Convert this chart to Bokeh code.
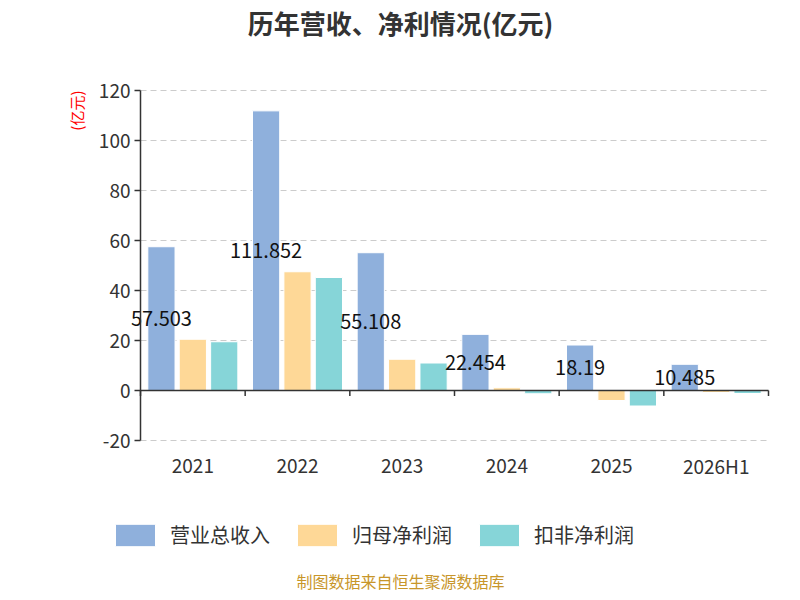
import math
from bokeh.plotting import figure
from bokeh.models import ColumnDataSource, Label, Legend, LegendItem, Range1d
from bokeh.embed import file_html
from bokeh.resources import INLINE
from bokeh.core.properties import value

years = ["2021", "2022", "2023", "2024", "2025", "2026H1"]
revenue = [57.503, 111.852, 55.108, 22.454, 18.19, 10.485]
net_profit = [20.5, 47.5, 12.5, 1.1, -4.0, -0.8]
deducted = [19.5, 45.2, 11.0, -1.3, -6.2, -1.2]
series_names = ["营业总收入", "归母净利润", "扣非净利润"]
colors = ["#8fb0dc", "#fed897", "#86d5d8"]
yticks = [-20, 0, 20, 40, 60, 80, 100, 120]
FONT = "Noto Sans CJK SC"

W, H = 792, 592
# frame covers whole canvas; plot region: x px 140..768, y px 90..440 (from top)
ppx = 628 / 6.0
ppy = 350 / 140.0
x0 = -0.5 - 140 / ppx
x1 = 5.5 + (W - 768) / ppx
y1 = 120 + 90 / ppy
y0 = -20 - (H - 440) / ppy

p = figure(width=W, height=H, output_backend="svg", toolbar_location=None,
           x_range=Range1d(x0, x1), y_range=Range1d(y0, y1),
           min_border=0)
p.outline_line_color = None
p.xaxis.visible = False
p.yaxis.visible = False
p.xgrid.visible = False
p.ygrid.visible = False

# grid lines
gy = [t for t in yticks if t != 0]
p.segment(x0=[-0.5] * len(gy), x1=[5.5] * len(gy), y0=gy, y1=gy,
          line_color="#cccccc", line_dash="6 4", line_width=1)

xs = list(range(len(years)))
offsets = [-0.3, 0.0, 0.3]
renderers = []
for vals, off, c in zip([revenue, net_profit, deducted], offsets, colors):
    src = ColumnDataSource(dict(x=[i + off for i in xs], top=vals))
    r = p.vbar(x="x", top="top", bottom=0, width=0.26, source=src, fill_color=c,
               line_color="white", line_width=1)
    renderers.append(r)

lsrc = ColumnDataSource(dict(x=[i - 0.3 for i in xs], y=[v / 2 for v in revenue],
                             t=[str(v) for v in revenue]))
p.text(x="x", y="y", text="t", source=lsrc, text_align="center", text_baseline="middle",
       text_font=value(FONT), text_font_size="20px", text_color="#111111")

# zero line and category ticks
p.segment(x0=[-0.5], x1=[5.5], y0=[0], y1=[0], line_color="#333333", line_width=1.5)
bx = [i + 0.5 for i in [-1] + xs]
p.segment(x0=bx, x1=bx, y0=[0] * len(bx), y1=[-2.2] * len(bx), line_color="#333333", line_width=1.5)

# y axis
p.segment(x0=[-0.5], x1=[-0.5], y0=[-20], y1=[120], line_color="#333333", line_width=1.5)
p.segment(x0=[-0.5 - 6 / ppx] * len(yticks), x1=[-0.5] * len(yticks), y0=yticks, y1=yticks,
          line_color="#333333", line_width=1.5)
p.text(x=[-0.5 - 10 / ppx] * len(yticks), y=yticks, text=[str(t) for t in yticks],
       text_align="right", text_baseline="middle", text_font=value(FONT),
       text_font_size="19px", text_color="#333333")

# x labels
p.text(x=xs, y=[-20 - 25 / ppy] * len(xs), text=years, text_align="center", text_baseline="middle",
       text_font=value(FONT), text_font_size="19px", text_color="#333333")

p.add_layout(Label(x=-0.5 - 64 / ppx, y=120, text="(亿元)", angle=math.pi / 2,
                   text_color="red", text_font=FONT, text_font_size="15px",
                   text_align="right", text_baseline="middle"))

legend = Legend(items=[LegendItem(label=n, renderers=[r]) for n, r in zip(series_names, renderers)],
                orientation="horizontal", location=(110, 43), border_line_color=None,
                background_fill_alpha=0,
                label_text_font=FONT, label_text_font_size="20px", label_text_color="#333333",
                glyph_width=50, glyph_height=28, label_height=28, spacing=22, padding=0, margin=0,
                label_standoff=10)
p.add_layout(legend, "center")

p.add_layout(Label(x=400, y=H - 22, x_units="screen", y_units="screen", text="历年营收、净利情况(亿元)",
                   text_font=FONT, text_font_size="26px", text_font_style="bold", text_color="#333333",
                   text_align="center", text_baseline="middle"))
p.add_layout(Label(x=400, y=12, x_units="screen", y_units="screen", text="制图数据来自恒生聚源数据库",
                   text_font=FONT, text_font_size="16px", text_color="#c8962a",
                   text_align="center", text_baseline="middle"))

open("out.html", "w").write(file_html(p, INLINE))
